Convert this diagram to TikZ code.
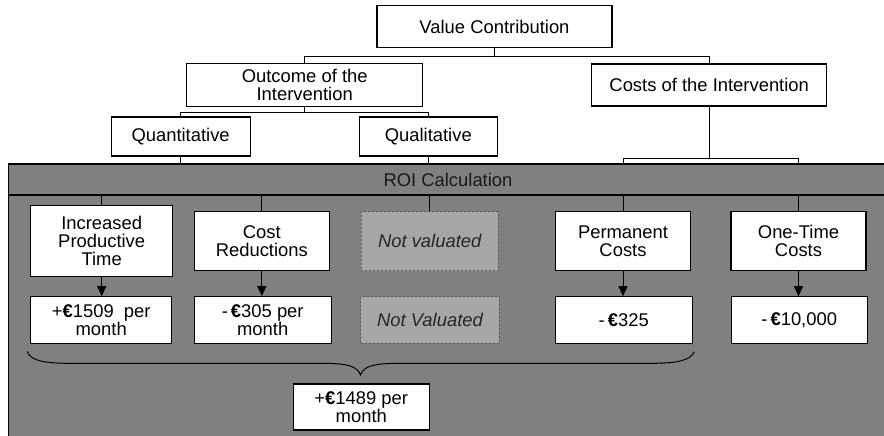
\documentclass[tikz,border=0pt]{standalone}
\usepackage{fontspec}
\setmainfont{Liberation Sans}
\usetikzlibrary{arrows.meta}
\newcommand\eurbold{\textbf{€}}
\definecolor{bandgray}{HTML}{808080}
\definecolor{nvgray}{HTML}{A6A6A6}
\definecolor{nvedge}{HTML}{5A5A5A}
\begin{document}
\begin{tikzpicture}[x=1pt,y=-1pt,
  every node/.style={font=\fontsize{18.4}{17.8}\selectfont, align=center, inner sep=0pt},
  rect/.style 2 args={draw=black, line width=1.1pt, fill=white, minimum width=#1pt, minimum height=#2pt},
  nvrect/.style 2 args={draw=nvedge, dash pattern=on 2pt off 2pt, line width=0.9pt, fill=nvgray, minimum width=#1pt, minimum height=#2pt, font=\fontsize{18.4}{17.8}\selectfont\itshape, text=black!85},
  conn/.style={line width=1pt, draw=black},
  arr/.style={conn, -{Triangle[length=10pt,width=9pt]}},
  band/.style={draw=black, line width=1.1pt, fill=bandgray}
]
\useasboundingbox (0,0) rectangle (884,436);
\clip (0,0) rectangle (884,436);

% ROI calculation band with its header strip
\coordinate (roiTL) at (8.3,164);
\coordinate (hdrL) at (8.3,195);
\draw[band] (roiTL) rectangle (900,450);
\draw[conn, line width=1.1pt] (hdrL) -- (900,195);
\node[text=black!90] (roi) at (448,180) {ROI Calculation};

% upper hierarchy
\node[rect={235}{42.4}] (vc) at (494.5,26.5) {Value Contribution};
\node[rect={236}{42.7}] (out) at (304.7,84.7) {Outcome of the\\Intervention};
\node[rect={235}{42}] (cost) at (709.2,85) {Costs of the Intervention};
\node[rect={139}{39}] (quant) at (180.6,136.5) {Quantitative};
\node[rect={138}{39}] (qual) at (428.3,136.5) {Qualitative};

\draw[conn] (vc.south) -- ++(0,8.3) coordinate (vcj) -| (out.north);
\draw[conn] (vcj) -| (cost.north);
\draw[conn] (out.south) -- ++(0,6) coordinate (outj) -| (quant.north);
\draw[conn] (outj) -| (qual.north);
\draw[conn] (quant.south) -- (quant.south |- roiTL);
\draw[conn] (qual.south) -- (qual.south |- roiTL);

% categories inside the band
\node[rect={142}{71}] (ipt) at (101.7,241.2) {Increased\\Productive\\Time};
\node[rect={135}{59}] (cr) at (261.8,241.2) {Cost\\Reductions};
\node[nvrect={137}{59}] (nv1) at (429.7,241.2) {Not valuated};
\node[rect={135.4}{59}] (pc) at (623,241.2) {Permanent\\Costs};
\node[rect={135}{59}] (ot) at (798.5,241.2) {One-Time\\Costs};

\draw[conn] (cost.south) -- ++(0,52) coordinate (costj) -| (pc.north |- roiTL);
\draw[conn] (costj) -| (ot.north |- roiTL);

\foreach \n in {ipt,cr,nv1,pc,ot}{
  \draw[conn] (\n.north |- hdrL) -- (\n.north);
}

% monetary values
\node[rect={141}{46.6}] (v1) at (101.2,320) {+\eurbold1509\ \ per\\month};
\node[rect={136.7}{46.6}] (v2) at (262.7,320) {-\,\eurbold305 per\\month};
\node[nvrect={138.6}{46.6}] (nv2) at (430,320) {Not Valuated};
\node[rect={137}{46.6}] (v3) at (623.8,320) {-\,\eurbold325};
\node[rect={136.3}{46.6}] (v4) at (799.2,320) {-\,\eurbold10,000};

\draw[arr] (ipt.south) -- (ipt.south |- v1.north);
\draw[arr] (cr.south) -- (cr.south |- v2.north);
\draw[arr] (pc.south) -- (pc.south |- v3.north);
\draw[arr] (ot.south) -- (ot.south |- v4.north);

% brace summing the monthly values
\coordinate (bl) at (27.3,351.7);
\coordinate (br) at (694.3,351.7);
\coordinate (bt) at (360.5,375);
\draw[conn] (bl) .. controls (31,361) and (45,363.3) .. (70,363.3)
  -- (318,363.3) .. controls (345,363.3) and (357,365) .. (bt)
  .. controls (364,365) and (376,363.3) .. (403,363.3)
  -- (651,363.3) .. controls (676,363.3) and (690,361) .. (br);

\node[rect={136}{46}] (tot) at (361.3,407) {+\eurbold1489 per\\month};
\end{tikzpicture}
\end{document}
